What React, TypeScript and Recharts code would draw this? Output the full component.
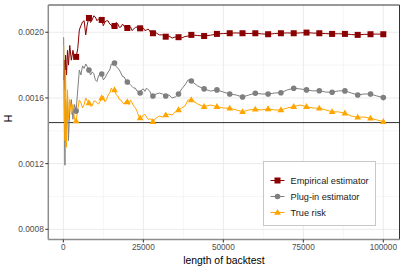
import { ComposedChart, Line, XAxis, YAxis, CartesianGrid, ReferenceLine } from 'recharts';

// backtest lengths (x) and the three H curves
const backtestLength = [
  100, 300, 500, 700, 1000, 1300, 1600, 2000, 2500, 3000, 3500, 4000,
  4500, 5000, 5500, 6000, 6500, 7000, 7500, 8000,
  8500, 9000, 9500, 10000, 10500, 11000, 11500, 12000,
  12500, 13000, 13500, 14000, 14500, 15000, 15500, 16000,
  16500, 17000, 17500, 18000, 18500, 19000, 19500, 20000,
  20500, 21000, 21500, 22000, 22500, 23000, 23500, 24000,
  24500, 25000, 25500, 26000, 26500, 27000, 27500, 28000,
  29000, 30000, 31000, 32000, 33000, 34000, 35000, 36000, 37000, 38000, 39000, 40000,
  42000, 44000, 46000, 48000, 50000, 52000, 54000, 56000, 58000, 60000,
  62000, 64000, 66000, 68000, 70000, 72000, 74000, 76000, 78000, 80000,
  82000, 84000, 86000, 88000, 90000, 92000, 94000, 96000, 98000, 100000,
];

const empirical = [
  0.00171, 0.00183, 0.00165, 0.00186, 0.00174, 0.00189, 0.0018, 0.00192, 0.00183, 0.00189, 0.00184, 0.00185,
  0.0019, 0.002014, 0.00204, 0.002063, 0.00207, 0.001984, 0.00205, 0.002087,
  0.00206, 0.002075, 0.0021, 0.002093, 0.00207, 0.002081, 0.00209, 0.002075,
  0.00204, 0.002063, 0.00207, 0.002069, 0.00205, 0.002044, 0.00202, 0.002038,
  0.00206, 0.002051, 0.00203, 0.002032, 0.00205, 0.002038, 0.00202, 0.002026,
  0.00204, 0.002032, 0.00201, 0.00202, 0.00203, 0.002032, 0.00201, 0.002024,
  0.00203, 0.002026, 0.00201, 0.002014, 0.00202, 0.002008, 0.00199, 0.001994,
  0.001996, 0.001984, 0.001984, 0.001973, 0.001977, 0.001965, 0.001971, 0.00197, 0.001965, 0.001974, 0.001977, 0.001984,
  0.00198, 0.001977, 0.001982, 0.00199, 0.001992, 0.001994, 0.001996, 0.001994, 0.001992, 0.001994,
  0.00199, 0.001988, 0.001992, 0.001994, 0.001996, 0.001994, 0.001996, 0.001998, 0.001995, 0.001994,
  0.001992, 0.00199, 0.001991, 0.00199, 0.001986, 0.001984, 0.001987, 0.001988, 0.001989, 0.001988,
];

const plugIn = [
  0.00197, 0.00147, 0.00119, 0.00159, 0.00141, 0.00162, 0.00134, 0.00153, 0.00159, 0.00147, 0.00156, 0.00152,
  0.00165, 0.00177, 0.00174, 0.001795, 0.00178, 0.001807, 0.00179, 0.00177,
  0.00174, 0.001758, 0.00175, 0.00171, 0.0017, 0.001734, 0.00175, 0.001746,
  0.00171, 0.001722, 0.00174, 0.001758, 0.00177, 0.001807, 0.0018, 0.001813,
  0.00179, 0.001783, 0.00177, 0.001752, 0.00173, 0.001728, 0.00171, 0.001697,
  0.00169, 0.001679, 0.00167, 0.00166, 0.00166, 0.001642, 0.00164, 0.00163,
  0.00165, 0.001655, 0.00164, 0.00166, 0.00165, 0.001642, 0.00162, 0.001612,
  0.001624, 0.00163, 0.001624, 0.001612, 0.001618, 0.0016, 0.001606, 0.001624, 0.001655, 0.001679, 0.00171, 0.001703,
  0.001673, 0.001655, 0.001642, 0.001649, 0.001636, 0.001624, 0.001618, 0.001606, 0.001618, 0.001629,
  0.001624, 0.001624, 0.00163, 0.001632, 0.001649, 0.001659, 0.001655, 0.001649, 0.001643, 0.001644,
  0.001636, 0.001635, 0.001643, 0.001643, 0.00163, 0.001618, 0.001624, 0.001624, 0.001612, 0.001602,
];

const trueRisk = [
  0.00192, 0.00159, 0.00134, 0.00177, 0.0013, 0.00165, 0.00147, 0.00159, 0.0015, 0.00156, 0.00147, 0.00146,
  0.00153, 0.001588, 0.00157, 0.001539, 0.00156, 0.0016, 0.00158, 0.00157,
  0.00155, 0.001551, 0.00158, 0.001582, 0.00157, 0.001563, 0.00158, 0.0016,
  0.00161, 0.001576, 0.00159, 0.001618, 0.00163, 0.001661, 0.00164, 0.001649,
  0.00162, 0.001612, 0.00159, 0.001588, 0.00157, 0.001563, 0.00158, 0.001576,
  0.00156, 0.001588, 0.00157, 0.001551, 0.00154, 0.001521, 0.00149, 0.001478,
  0.00148, 0.001496, 0.0015, 0.001484, 0.00147, 0.001472, 0.00147, 0.001456,
  0.001478, 0.00149, 0.001484, 0.001496, 0.001502, 0.001496, 0.001515, 0.001527, 0.001539, 0.001551, 0.001588, 0.001588,
  0.001563, 0.001547, 0.001557, 0.001547, 0.001539, 0.001537, 0.001527, 0.001516, 0.001527, 0.001531,
  0.001527, 0.001533, 0.001527, 0.001527, 0.001539, 0.001547, 0.001557, 0.001547, 0.001539, 0.001537,
  0.001527, 0.001516, 0.001515, 0.001507, 0.00149, 0.001482, 0.001484, 0.001476, 0.001466, 0.001456,
];

const xTicks = [0, 25000, 50000, 75000, 100000];
const xMinor = [12500, 37500, 62500, 87500];
const yTicks = [0.0008, 0.0012, 0.0016, 0.002];
const yMinor = [0.001, 0.0014, 0.0018];
const trueH = 0.00145;

const X_MIN = -4700;
const X_MAX = 105060;
const Y_MIN = 0.000738;
const Y_MAX = 0.002166;

const RED = '#8B0000';
const GREY = '#7F7F7F';
const ORANGE = '#FFA500';
const FONT = '"Liberation Sans", Arial, sans-serif';

const chartData = backtestLength.map((x, i) => ({
  x,
  empirical: empirical[i],
  plugIn: plugIn[i],
  trueRisk: trueRisk[i],
}));

const isMarked = (x: number) => x >= 4000 && x % 4000 === 0;

function Marker({ shape, x, y, color }: { shape: string; x: number; y: number; color: string }) {
  if (shape === 'square') return <rect x={x - 3} y={y - 3} width={6} height={6} fill={color} />;
  if (shape === 'circle') return <circle cx={x} cy={y} r={2.8} fill={color} />;
  return <polygon points={`${x},${y - 3.6} ${x + 3.4},${y + 2.3} ${x - 3.4},${y + 2.3}`} fill={color} />;
}

const dotFor = (shape: string, color: string) => (props: any) => {
  const { cx, cy, payload, index } = props;
  if (!isMarked(payload.x) || cx == null || cy == null) return <g key={index} />;
  return (
    <g key={index}>
      <Marker shape={shape} x={cx} y={cy} color={color} />
    </g>
  );
};

const legendItems = [
  { label: 'Empirical estimator', shape: 'square', color: RED },
  { label: 'Plug-in estimator', shape: 'circle', color: GREY },
  { label: 'True risk', shape: 'triangle', color: ORANGE },
];

export default function App() {
  return (
    <div style={{ position: 'absolute', left: 0, top: 0, width: 405, height: 270, background: '#fff', fontFamily: FONT }}>
      <ComposedChart
        width={405}
        height={270}
        data={chartData}
        margin={{ top: 5, right: 5.5, left: 0, bottom: 0 }}
      >
        <CartesianGrid stroke="#EBEBEB" strokeWidth={0.5} horizontalValues={yMinor} verticalValues={xMinor} />
        <CartesianGrid stroke="#EBEBEB" strokeWidth={1} horizontalValues={yTicks} verticalValues={xTicks} />
        <XAxis
          type="number"
          dataKey="x"
          domain={[X_MIN, X_MAX]}
          ticks={xTicks}
          allowDataOverflow
          height={30.5}
          tickSize={3}
          tickMargin={1.5}
          tick={{ fontSize: 8.2, fill: '#4D4D4D', fontFamily: FONT }}
          tickLine={{ stroke: '#333' }}
          axisLine={{ stroke: '#8C8C8C', strokeWidth: 1.5 }}
          label={{ value: 'length of backtest', position: 'insideBottom', offset: 6.5, fontSize: 10.4, fill: '#000', fontFamily: FONT }}
        />
        <YAxis
          type="number"
          domain={[Y_MIN, Y_MAX]}
          ticks={yTicks}
          allowDataOverflow
          width={48.3}
          tickSize={3}
          tickMargin={1.5}
          tickFormatter={(v: number) => v.toFixed(4)}
          tick={{ fontSize: 8.4, fill: '#4D4D4D', fontFamily: FONT }}
          tickLine={{ stroke: '#333' }}
          axisLine={{ stroke: '#8C8C8C', strokeWidth: 1.5 }}
          label={{ value: 'H', angle: -90, position: 'insideLeft', offset: 8, fontSize: 10.4, fill: '#000', fontFamily: FONT }}
        />
        <ReferenceLine y={Y_MAX} stroke="#333" strokeWidth={1} />
        <ReferenceLine x={X_MAX} stroke="#333" strokeWidth={1} />
        <ReferenceLine y={trueH} stroke="#1A1A1A" strokeWidth={0.9} />
        <Line
          dataKey="empirical"
          type="linear"
          stroke={RED}
          strokeWidth={1}
          dot={dotFor('square', RED)}
          activeDot={false}
          isAnimationActive={false}
        />
        <Line
          dataKey="plugIn"
          type="linear"
          stroke={GREY}
          strokeWidth={1}
          dot={dotFor('circle', GREY)}
          activeDot={false}
          isAnimationActive={false}
        />
        <Line
          dataKey="trueRisk"
          type="linear"
          stroke={ORANGE}
          strokeWidth={1}
          dot={dotFor('triangle', ORANGE)}
          activeDot={false}
          isAnimationActive={false}
        />
      </ComposedChart>

      {/* legend box, drawn over the panel like ggplot's inside legend */}
      <svg
        width={113}
        height={65}
        style={{ position: 'absolute', left: 262.5, top: 160.5 }}
      >
        <rect x={0.5} y={0.5} width={112} height={64} fill="#fff" stroke="#C8C8C8" strokeWidth={1} />
        {legendItems.map((item, i) => {
          const cy = 19.5 + i * 16;
          return (
            <g key={item.label}>
              <line x1={7.5} x2={21.5} y1={cy} y2={cy} stroke={item.color} strokeWidth={1} />
              <Marker shape={item.shape} x={14.5} y={cy} color={item.color} />
              <text x={27.5} y={cy} dominantBaseline="central" fontSize={9.2} fill="#1A1A1A" fontFamily={FONT}>
                {item.label}
              </text>
            </g>
          );
        })}
      </svg>
    </div>
  );
}
